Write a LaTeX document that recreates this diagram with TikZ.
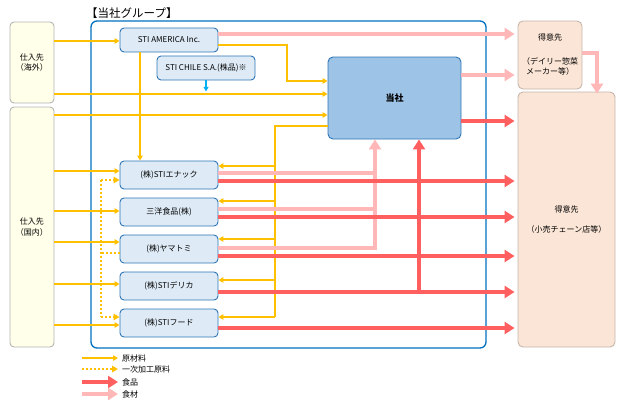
\documentclass[tikz,border=0pt]{standalone}
\usepackage{fontspec}
\setmainfont{Noto Sans CJK JP}
\usetikzlibrary{arrows.meta}
\definecolor{orng}{HTML}{FFC000}
\definecolor{redc}{HTML}{FF5F5F}
\definecolor{pinkc}{HTML}{FFB7B7}
\definecolor{grpB}{HTML}{0070C0}
\definecolor{subB}{HTML}{2E75B6}
\definecolor{subF}{HTML}{DEEBF7}
\definecolor{mainF}{HTML}{9DC3E6}
\definecolor{supB}{HTML}{B4B4B4}
\definecolor{supF}{HTML}{FFFFEA}
\definecolor{custB}{HTML}{C4B5AD}
\definecolor{custF}{HTML}{FBE5D6}
\definecolor{cyanc}{HTML}{00B0F0}
\tikzset{
  box/.style={draw, rounded corners=4pt, inner sep=0pt, align=center, line width=0.9pt},
  subbox/.style={box, draw=subB, fill=subF, minimum width=98pt, minimum height=28pt},
  supbox/.style={box, draw=supB, fill=supF, minimum width=44pt},
  custbox/.style={box, draw=custB, fill=custF, rounded corners=5pt},
  orarrow/.style={draw=orng, line width=1.3pt, -{Triangle[length=5pt,width=5.5pt]}},
  orline/.style={draw=orng, line width=1.3pt},
  dotline/.style={draw=orng, line width=1.7pt, dash pattern=on 1.7pt off 2.3pt},
  dotarrow/.style={dotline, -{Triangle[length=6pt,width=6.5pt]}},
  redarrow/.style={draw=redc, line width=3.6pt, -{Triangle[length=10pt,width=12pt]}},
  redline/.style={draw=redc, line width=3.6pt},
  pinkarrow/.style={draw=pinkc, line width=3.6pt, -{Triangle[length=10pt,width=12pt]}},
  pinkline/.style={draw=pinkc, line width=3.6pt},
  legtext/.style={anchor=west, inner sep=0pt},
}
\begin{document}
\begin{tikzpicture}[x=1pt,y=-1pt,font=\fontsize{8}{10.5}\selectfont]
\useasboundingbox (0,0) rectangle (624,405);
% group box
\node[draw=grpB, line width=1.3pt, rounded corners=6pt, minimum width=395pt, minimum height=327pt, inner sep=0pt] (grp) at (288.5,184.5) {};
\node[anchor=west, inner sep=0pt, font=\fontsize{11.5}{12}\selectfont] (title) at (86,13) {【当社グループ】};
% suppliers
\node[supbox, minimum height=81pt] (kaigai) at (32,62.5) {仕入先\\（海外）};
\node[supbox, minimum height=240pt] (kokunai) at (32,227) {仕入先\\（国内）};
% group companies
\node[subbox, minimum height=24pt] (america) at (169,40) {STI AMERICA Inc.};
\node[subbox, minimum height=24pt] (chile) at (206,68) {STI CHILE S.A.(株品)※};
\node[box, draw=subB, fill=mainF, rounded corners=5pt, minimum width=133pt, minimum height=82pt, font=\fontsize{9}{10}\selectfont\bfseries] (tousha) at (394.5,98) {当社};
\node[subbox] (enac) at (169,175) {(株)STIエナック};
\node[subbox] (sanyo) at (169,212) {三洋食品(株)};
\node[subbox] (yama) at (169,249) {(株)ヤマトミ};
\node[subbox] (delica) at (169,286) {(株)STIデリカ};
\node[subbox] (food) at (169,323) {(株)STIフード};
% customers
\node[custbox, minimum width=64pt, minimum height=68pt] (toku1) at (550,55) {得意先\\[13pt]（デイリー惣菜\\メーカー等）};
\node[custbox, minimum width=97pt, minimum height=255pt] (toku2) at (566.5,219.5) {得意先\\[9pt]（小売チェーン店等）};

% orange raw material flows
\draw[orarrow] (kaigai.east |- 0,41) -- (america.west |- 0,41);
\draw[orarrow] (kaigai.east |- 0,94) -- (tousha.west |- 0,94);
\draw[orarrow] (kokunai.east |- 0,115) -- (tousha.west |- 0,115);
\draw[orarrow] (america.east |- 0,45) -- (287,45) -- (287,81) -- (tousha.west |- 0,81);
\draw[orarrow] (america.south -| 140,0) -- (enac.north -| 140,0);
\draw[-{Triangle[length=4.5pt,width=5pt]}, draw=cyanc, line width=1.1pt] (chile.south) -- ++(0,11) coordinate (chileend);
\draw[orline] (tousha.west |- 0,126) -- (275,126) -- (275,317);
\draw[orarrow] (275,317) -- (food.east |- 0,317);
\draw[orarrow] (275,166) -- (enac.east |- 0,166);
\draw[orarrow] (275,201) -- (sanyo.east |- 0,201);
\draw[orarrow] (275,239) -- (yama.east |- 0,239);
\draw[orarrow] (275,280) -- (delica.east |- 0,280);
\draw[orarrow] (kokunai.east |- 0,171) -- (enac.west |- 0,171);
\draw[orarrow] (kokunai.east |- 0,211) -- (sanyo.west |- 0,211);
\draw[orarrow] (kokunai.east |- 0,242) -- (yama.west |- 0,242);
\draw[orarrow] (kokunai.east |- 0,284) -- (delica.west |- 0,284);
\draw[orarrow] (kokunai.east |- 0,325) -- (food.west |- 0,325);
% dotted (primary processed)
\draw[dotline] (yama.west |- 0,253) -- (101,253);
\draw[dotline] (101,180) -- (101,317);
\draw[dotarrow] (101,180) -- (enac.west |- 0,180);
\draw[dotarrow] (101,317) -- (food.west |- 0,317);

% pink (ingredients)
\draw[pinkarrow] (america.east |- 0,34) -- ([xshift=-3pt]toku1.west |- 0,34);
\draw[pinkarrow] (tousha.east |- 0,75) -- ([xshift=-3pt]toku1.west |- 0,75);
\draw[pinkarrow] (toku1.east |- 0,53) -- (597,53) -- ([yshift=-2pt]toku2.north -| 597,0);
\draw[pinkline] (enac.east |- 0,173) -- (375,173);
\draw[pinkline] (sanyo.east |- 0,209) -- (375,209);
\draw[pinkarrow] (yama.east |- 0,248) -- (375,248) -- (tousha.south -| 375,0);
% red (products)
\draw[redarrow] (tousha.east |- 0,121) -- ([xshift=-3pt]toku2.west |- 0,121);
\draw[redarrow] (enac.east |- 0,181) -- ([xshift=-3pt]toku2.west |- 0,181);
\draw[redarrow] (sanyo.east |- 0,217) -- ([xshift=-3pt]toku2.west |- 0,217);
\draw[redarrow] (yama.east |- 0,256) -- ([xshift=-3pt]toku2.west |- 0,256);
\draw[redarrow] (delica.east |- 0,292) -- ([xshift=-3pt]toku2.west |- 0,292);
\draw[redarrow] (food.east |- 0,328) -- ([xshift=-3pt]toku2.west |- 0,328);
\draw[redarrow] (419,292) -- (tousha.south -| 419,0);

% legend
\node[legtext] (l1) at (122,358) {原材料};
\node[legtext] (l2) at (122,369) {一次加工原料};
\node[legtext] (l3) at (122,382) {食品};
\node[legtext] (l4) at (122,394) {食材};
\coordinate (s1) at (82,358);
\coordinate (s2) at (82,369);
\coordinate (s3) at (82,382);
\coordinate (s4) at (82,394);
\draw[orarrow] (s1) -- ([xshift=-4pt]l1.west);
\draw[dotarrow] (s2) -- ([xshift=-4pt]l2.west);
\draw[redarrow] (s3) -- ([xshift=-4pt]l3.west);
\draw[pinkarrow] (s4) -- ([xshift=-4pt]l4.west);
\end{tikzpicture}
\end{document}
